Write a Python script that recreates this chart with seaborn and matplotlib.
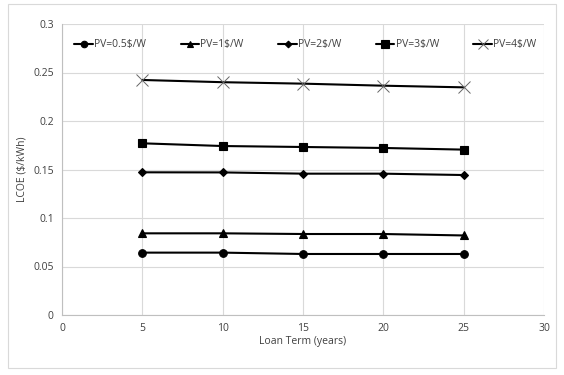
import numpy as np
import pandas as pd
import matplotlib
matplotlib.use("Agg")
import matplotlib.pyplot as plt
import seaborn as sns

# данные
loan_term = [5, 10, 15, 20, 25]
pv_labels = ["PV=0.5$/W", "PV=1$/W", "PV=2$/W", "PV=3$/W", "PV=4$/W"]
lcoe_pv05 = [0.0643, 0.0643, 0.0629, 0.0629, 0.0629]
lcoe_pv1 = [0.0842, 0.0842, 0.0835, 0.0835, 0.0820]
lcoe_pv2 = [0.1471, 0.1470, 0.1457, 0.1457, 0.1443]
lcoe_pv3 = [0.1770, 0.1742, 0.1732, 0.1722, 0.1705]
lcoe_pv4 = [0.2423, 0.2400, 0.2385, 0.2364, 0.2347]

series = [lcoe_pv05, lcoe_pv1, lcoe_pv2, lcoe_pv3, lcoe_pv4]
df = pd.DataFrame({
    "Loan Term": loan_term * len(pv_labels),
    "LCOE": np.concatenate(series),
    "PV": np.repeat(pv_labels, len(loan_term)),
})

sns.set_style("white")
plt.rcParams["font.family"] = ["Open Sans", "DejaVu Sans"]

fig = plt.figure(figsize=(5.64, 3.75), dpi=100)
ax = fig.add_axes([62 / 564, 1 - 315 / 375, (544 - 62) / 564, (315 - 24) / 375])

markers = ["o", "^", "D", "s", "x"]
sizes = [5.5, 5.5, 4, 6, 8]

# каждая серия отдельно (заполненные и линейные маркеры нельзя смешивать)
for p, m, ms in zip(pv_labels, markers, sizes):
    sub = df[df["PV"] == p]
    mec = "#666666" if m == "x" else "black"
    mew = 0.7 if m == "x" else 0.8
    sns.lineplot(data=sub, x="Loan Term", y="LCOE", ax=ax, color="black",
                 marker=m, markersize=ms, markeredgecolor=mec,
                 markeredgewidth=mew, linewidth=1.5, label=p)

ax.set_xlim(0, 30)
ax.set_ylim(0, 0.3)
ax.set_xticks(range(0, 31, 5))
ax.set_yticks([0, 0.05, 0.1, 0.15, 0.2, 0.25, 0.3])
ax.set_yticklabels(["0", "0.05", "0.1", "0.15", "0.2", "0.25", "0.3"])
ax.grid(True, color="#d9d9d9", linewidth=0.8)
ax.set_axisbelow(True)
for s in ["top", "right"]:
    ax.spines[s].set_visible(False)
for s in ["left", "bottom"]:
    ax.spines[s].set_color("#bfbfbf")
ax.tick_params(length=0, labelsize=7.5, colors="#404040", pad=6)
ax.set_xlabel("Loan Term (years)", fontsize=7.5, color="#404040", labelpad=1)
ax.set_ylabel("LCOE ($/kWh)", fontsize=7.5, color="#404040", labelpad=4)

leg = ax.legend(ncol=5, loc="upper center",
                bbox_to_anchor=(0.505, 0.98), frameon=False, fontsize=7.5,
                handlelength=1.8, handletextpad=0.1, columnspacing=3.3,
                markerscale=0.85)
for t in leg.get_texts():
    t.set_color("#404040")

# рамка области диаграммы
fig.patches.append(plt.Rectangle((8 / 564, 1 - 368 / 375), 548 / 564, 364 / 375,
                                 transform=fig.transFigure, fill=False,
                                 edgecolor="#d9d9d9", linewidth=0.8))

fig.savefig("out.png", dpi=100)
